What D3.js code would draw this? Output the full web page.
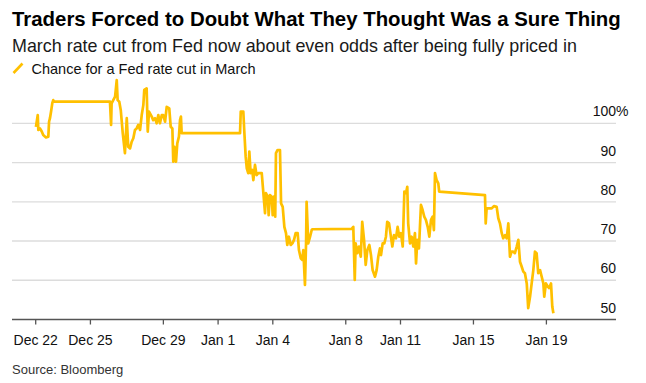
<!DOCTYPE html>
<html>
<head>
<meta charset="utf-8">
<script src="https://cdn.jsdelivr.net/npm/d3@7"></script>
<style>
    body { margin: 0; background: #fff; }
    svg { display: block; font-family: "Liberation Sans", Arial, sans-serif; }
</style>
</head>
<body>
<div id="chart"></div>
<script>
// days after Dec 22 00:00 and the matching odds (%) of a March cut
var dayOffsets = [0.04, 0.14, 0.17, 0.26, 0.36, 0.44, 0.59, 0.72, 0.76, 0.81, 0.87, 0.94, 0.99, 1.05,
    4.10, 4.16, 4.19, 4.28, 4.38, 4.47, 4.52, 4.61, 4.69, 4.80, 4.92, 5.02, 5.10, 5.20, 5.29, 5.38,
    5.47, 5.56, 5.65, 5.75, 5.84, 5.93, 5.98, 6.11, 6.17, 6.24, 6.39, 6.47, 6.57, 6.66, 6.75, 6.84,
    6.94, 7.02, 7.12, 7.21, 7.35, 7.43, 7.52, 7.57, 7.63, 7.72, 7.79, 7.88, 7.94, 7.99, 8.03,
    11.23, 11.27, 11.41, 11.46, 11.54, 11.60, 11.68, 11.74, 11.81, 11.90, 11.96, 12.05, 12.14, 12.23,
    12.42, 12.51, 12.60, 12.65, 12.75, 12.80, 12.87, 12.97, 13.02, 13.09, 13.16, 13.20, 13.29, 13.42,
    13.48, 13.57, 13.66, 13.75, 13.82, 13.91, 14.01, 14.10, 14.19, 14.28, 14.39, 14.46, 14.56, 14.64,
    14.70, 14.79, 14.85, 14.88, 14.97, 15.07, 15.16, 15.20,
    17.35, 17.44, 17.52, 17.57, 17.66, 17.75, 17.85, 17.93, 18.03, 18.12, 18.21, 18.32, 18.41, 18.50,
    18.63, 18.72, 18.81, 18.90, 18.96, 19.05, 19.14, 19.23, 19.30, 19.40, 19.49, 19.58, 19.67, 19.78,
    19.87, 19.96, 20.05, 20.15, 20.24, 20.33, 20.40, 20.45, 20.55, 20.64, 20.73, 20.82, 20.88, 20.95,
    21.04, 21.15, 21.24, 21.33, 21.42, 21.52, 21.61, 21.70, 21.79, 21.86, 21.92, 22.01, 22.10, 22.15,
    24.66, 24.70, 24.75, 25.03, 25.15, 25.30, 25.39, 25.48, 25.58, 25.66, 25.76, 25.85, 25.94, 26.03,
    26.12, 26.21, 26.30, 26.40, 26.49, 26.58, 26.67, 26.76, 26.85, 26.95, 27.03, 27.13, 27.22, 27.31,
    27.40, 27.49, 27.58, 27.68, 27.77, 27.86, 27.91, 28.00, 28.10, 28.18, 28.28, 28.35, 28.41];

var cutOdds = [99.1, 102.1, 98.3, 98.7, 97.9, 97.0, 96.4, 96.6, 100.4, 101.3, 103.0, 105.2, 105.9, 105.5,
    105.5, 99.6, 105.1, 105.9, 106.8, 111.0, 105.9, 105.5, 103.4, 97.5, 92.4, 101.3, 94.0, 93.6, 95.3, 96.2,
    98.3, 98.7, 99.6, 98.3, 102.1, 104.7, 108.5, 108.9, 97.9, 103.0, 101.7, 100.8, 101.3, 100.0, 102.1, 100.0,
    102.1, 102.1, 100.4, 104.2, 103.8, 99.1, 98.7, 90.2, 94.0, 90.2, 94.9, 96.6, 100.8, 101.7, 97.5,
    97.5, 103.0, 103.0, 98.3, 91.5, 88.5, 87.3, 92.8, 87.3, 88.1, 85.5, 89.4, 86.8, 87.3,
    87.3, 82.2, 77.1, 82.2, 81.3, 76.6, 81.7, 81.3, 76.6, 81.3, 76.2, 92.4, 93.2, 93.2,
    79.6, 78.7, 73.6, 72.0, 69.0, 71.1, 69.0, 69.4, 70.3, 72.0, 72.0, 67.7, 65.6, 65.2,
    67.7, 58.8, 69.4, 80.0, 69.4, 71.1, 72.8, 73.0,
    73.1, 73.6, 60.1, 69.4, 66.9, 68.6, 66.0, 74.9, 70.3, 63.9, 67.7, 69.0, 66.4, 62.6,
    60.9, 62.6, 66.0, 68.1, 66.4, 69.4, 69.4, 71.1, 74.9, 74.5, 71.5, 68.6, 71.5, 70.7,
    73.6, 71.1, 72.0, 68.6, 82.6, 82.2, 83.8, 74.5, 69.4, 71.1, 68.6, 72.0, 64.3, 70.3,
    68.1, 79.2, 77.9, 76.2, 75.4, 73.6, 71.1, 75.4, 76.2, 72.8, 87.3, 85.5, 84.7, 82.6,
    81.7, 74.5, 78.3, 78.3, 78.9, 78.7, 75.8, 74.5, 72.0, 70.7, 71.5, 70.7, 74.5, 66.0,
    67.3, 67.3, 66.9, 68.6, 70.3, 64.7, 63.5, 62.2, 61.8, 59.2, 52.9, 55.8, 59.2, 62.6,
    67.3, 66.9, 61.8, 62.6, 60.9, 59.2, 55.8, 59.2, 58.4, 58.0, 59.2, 53.3, 51.6];

var tickDates = ["2023-12-22", "2023-12-25", "2023-12-29", "2024-01-01", "2024-01-04",
    "2024-01-08", "2024-01-11", "2024-01-15", "2024-01-19"];
var yTicks = [50, 60, 70, 80, 90, 100];

var W = 646, H = 383;
var left = 12, right = 616, axisY = 319.5;
var yellow = "#ffc000";
var parseDay = d3.timeParse("%Y-%m-%d");
var startDate = parseDay(tickDates[0]);

var data = dayOffsets.map(function(d, i) {
    return {date: new Date(startDate.getTime() + d * 864e5), value: cutOdds[i]};
});

var x = d3.scaleTime()
    .domain([startDate, parseDay(tickDates[tickDates.length - 1])])
    .range([35.2, 545.9]);

var y = d3.scaleLinear()
    .domain([50, 100])
    .range([axisY, 123.3]);

var svg = d3.select("#chart")
    .append("svg")
        .attr("width", W)
        .attr("height", H);

svg.append("rect").attr("width", W).attr("height", H).attr("fill", "#fff");

// titles
svg.append("text")
    .attr("x", 12).attr("y", 26)
    .attr("font-size", "20.4px").attr("font-weight", "bold").attr("fill", "#000")
    .text("Traders Forced to Doubt What They Thought Was a Sure Thing");

svg.append("text")
    .attr("x", 12).attr("y", 52)
    .attr("font-size", "17.9px").attr("fill", "#1a1a1a")
    .text("March rate cut from Fed now about even odds after being fully priced in");

// legend
svg.append("line")
    .attr("x1", 13.5).attr("y1", 73).attr("x2", 22.5).attr("y2", 63.5)
    .attr("stroke", yellow).attr("stroke-width", 2.6);
svg.append("text")
    .attr("x", 31.5).attr("y", 74)
    .attr("font-size", "14.5px").attr("fill", "#111")
    .text("Chance for a Fed rate cut in March");

// gridlines + y labels
svg.append("g")
    .selectAll("line")
    .data(yTicks.filter(function(d) { return d > 50; }))
    .enter().append("line")
        .attr("x1", left).attr("x2", right)
        .attr("y1", function(d) { return y(d); })
        .attr("y2", function(d) { return y(d); })
        .attr("stroke", "#dcdcdc").attr("stroke-width", 1.3);

svg.append("g")
    .selectAll("text")
    .data(yTicks)
    .enter().append("text")
        .attr("x", right)
        .attr("y", function(d) { return y(d) - 7; })
        .attr("text-anchor", "end")
        .attr("font-size", "14px").attr("fill", "#111")
        .text(function(d) { return d; });

svg.append("text")
    .attr("x", right).attr("y", y(100) - 7)
    .attr("font-size", "14px").attr("fill", "#111")
    .text("%");

// x axis
var xAxis = svg.append("g")
    .attr("transform", "translate(0," + axisY + ")")
    .call(d3.axisBottom(x)
        .tickValues(tickDates.map(parseDay))
        .tickFormat(d3.timeFormat("%b %-d"))
        .tickSize(5)
        .tickPadding(11));

xAxis.select(".domain").remove();
xAxis.selectAll(".tick line").attr("stroke", "#555").attr("stroke-width", 1.3);
xAxis.selectAll(".tick text")
    .attr("font-size", "14px").attr("fill", "#111")
    .attr("font-family", "Liberation Sans, Arial, sans-serif");

svg.append("line")
    .attr("x1", left).attr("x2", right)
    .attr("y1", axisY).attr("y2", axisY)
    .attr("stroke", "#555").attr("stroke-width", 1.5);

// the series
var line = d3.line()
    .x(function(d) { return x(d.date); })
    .y(function(d) { return y(d.value); });

svg.append("path")
    .datum(data)
    .attr("d", line)
    .attr("fill", "none")
    .attr("stroke", yellow)
    .attr("stroke-width", 2.7)
    .attr("stroke-linejoin", "round");

svg.append("text")
    .attr("x", 12).attr("y", 374)
    .attr("font-size", "13px").attr("fill", "#333")
    .text("Source: Bloomberg");
</script>
</body>
</html>
